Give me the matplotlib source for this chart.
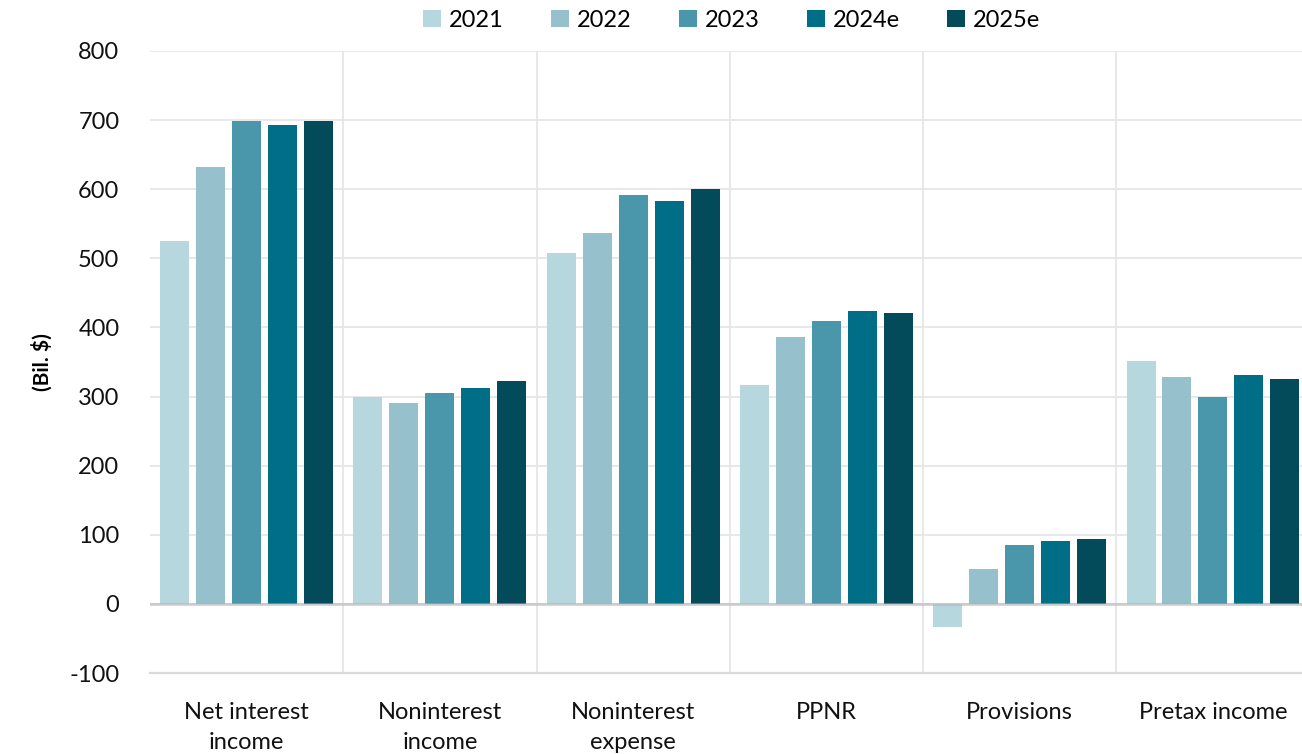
import matplotlib

matplotlib.use("Agg")
import matplotlib.pyplot as plt
import numpy as np


CATEGORIES = [
    "Net interest\nincome",
    "Noninterest\nincome",
    "Noninterest\nexpense",
    "PPNR",
    "Provisions",
    "Pretax income",
]
SERIES = ["2021", "2022", "2023", "2024e", "2025e"]
VALUES_2021 = [525, 300, 508, 317, -33, 351]
VALUES_2022 = [632, 290, 537, 386, 50, 328]
VALUES_2023 = [699, 305, 592, 409, 85, 299]
VALUES_2024E = [693, 313, 583, 424, 91, 331]
VALUES_2025E = [699, 322, 600, 421, 94, 325]
COLORS = ["#b7d7de", "#95c0cc", "#4a97ac", "#016e88", "#034a5b"]
Y_TICKS = list(range(-100, 801, 100))


def main() -> None:
    plt.rcParams["font.family"] = ["Lato", "DejaVu Sans"]
    series_values = [VALUES_2021, VALUES_2022, VALUES_2023, VALUES_2024E, VALUES_2025E]

    fig = plt.figure(figsize=(13.02, 7.54), dpi=100)
    ax = fig.add_axes([0.1152, 0.1074, 0.8906, 0.825])

    x = np.arange(len(CATEGORIES))
    step = 0.186
    width = 0.15
    for i, (name, vals, color) in enumerate(zip(SERIES, series_values, COLORS)):
        ax.bar(x + (i - 2) * step, vals, width=width, color=color, label=name, zorder=2)

    ax.set_xlim(-0.5, len(CATEGORIES) - 0.5)
    ax.set_ylim(-100, 800)
    ax.set_yticks(Y_TICKS)
    ax.set_yticklabels([str(t) for t in Y_TICKS], fontsize=17)
    ax.set_xticks(x)
    ax.set_xticklabels(CATEGORIES, fontsize=17, linespacing=1.5, va="top")
    ax.tick_params(axis="both", length=0, colors="#111111")
    ax.tick_params(axis="x", pad=21)
    ax.tick_params(axis="y", pad=22)

    ax.grid(axis="y", color="#e6e6e6", linewidth=1.3, zorder=0)
    for b in np.arange(0.5, len(CATEGORIES) - 0.5, 1.0):
        ax.axvline(b, color="#e6e6e6", linewidth=1.3, zorder=0)
    ax.axhline(0, color="#b0b0b0", linewidth=2.2, alpha=0.5, zorder=3)
    for side in ["top", "right", "left"]:
        ax.spines[side].set_visible(False)
    ax.spines["bottom"].set_color("#d9d9d9")
    ax.spines["bottom"].set_linewidth(1.6)

    ax.set_ylabel("(Bil. $)", fontsize=15, fontweight="bold", labelpad=12)

    fig.legend(
        loc="center",
        bbox_to_anchor=(0.562, 0.973),
        ncol=5,
        frameon=False,
        fontsize=17,
        handlelength=0.75,
        handleheight=0.75,
        handletextpad=0.35,
        columnspacing=2.0,
    )

    fig.savefig("out.png", dpi=100)
    plt.close(fig)


if __name__ == "__main__":
    main()
